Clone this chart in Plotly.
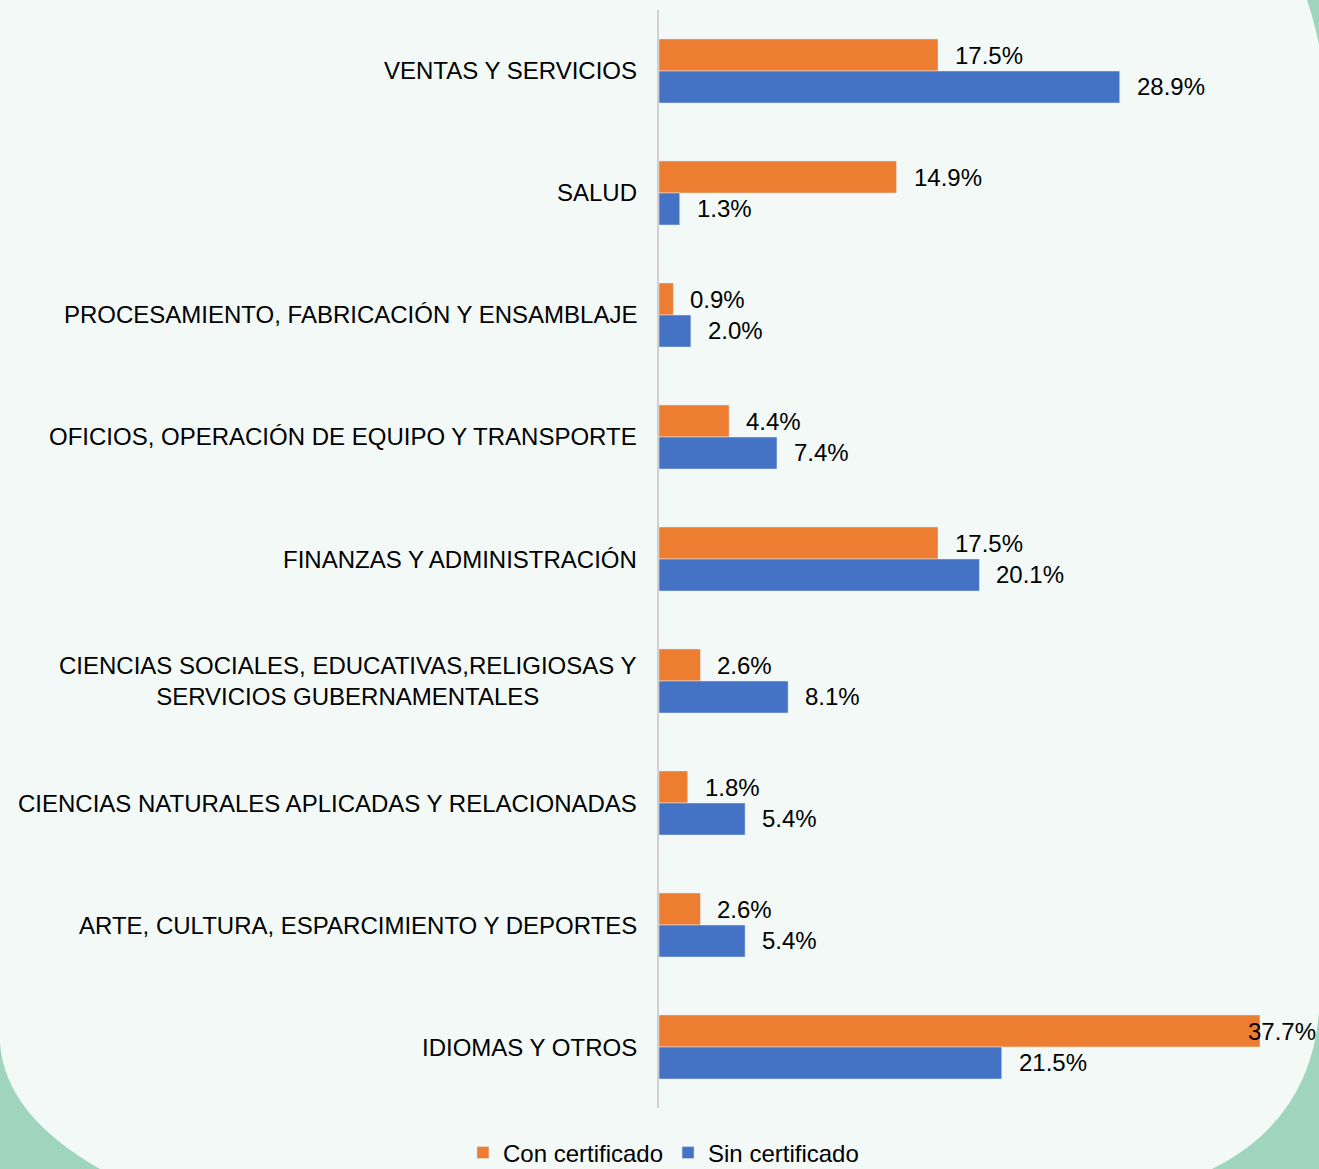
import plotly.graph_objects as go

categorias = [
    "VENTAS Y SERVICIOS",
    "SALUD",
    "PROCESAMIENTO, FABRICACIÓN Y ENSAMBLAJE",
    "OFICIOS, OPERACIÓN DE EQUIPO Y TRANSPORTE",
    "FINANZAS Y ADMINISTRACIÓN",
    "CIENCIAS SOCIALES, EDUCATIVAS,RELIGIOSAS Y<br>SERVICIOS GUBERNAMENTALES",
    "CIENCIAS NATURALES APLICADAS Y RELACIONADAS",
    "ARTE, CULTURA, ESPARCIMIENTO Y DEPORTES",
    "IDIOMAS Y OTROS",
]
con_certificado = [17.5, 14.9, 0.9, 4.4, 17.5, 2.6, 1.8, 2.6, 37.7]
sin_certificado = [28.9, 1.3, 2.0, 7.4, 20.1, 8.1, 5.4, 5.4, 21.5]

W, H = 1319, 1169
FONT = "Liberation Sans, Arial, sans-serif"
FS = 24
BG = "#f2f9f7"
GREEN = "#9fd5bd"
ORANGE = "#ED7D31"
BLUE = "#4472C4"

x0_px, x1_px = 659, W
XMAX = 41.4
dom_x = [x0_px / W, 1.0]
dom_y = [1 - 1108 / H, 1 - 10 / H]

fig = go.Figure()
fig.add_trace(go.Bar(y=categorias, x=con_certificado, orientation="h",
                     name="Con certificado", marker_color=ORANGE))
fig.add_trace(go.Bar(y=categorias, x=sin_certificado, orientation="h",
                     name="Sin certificado", marker_color=BLUE))

# etiquetas de datos
annotations = []
for serie, offset in ((con_certificado, -0.13), (sin_certificado, 0.13)):
    for i, v in enumerate(serie):
        px_end = x0_px + v / XMAX * (x1_px - x0_px)
        txt = f"{v:.1f}%"
        if px_end + 16 + 68 > W:
            annotations.append(dict(x=1.0, xref="paper", y=i + offset, yref="y",
                                    text=txt, showarrow=False, xanchor="right",
                                    xshift=-1, font=dict(size=FS, color="#000")))
        else:
            annotations.append(dict(x=v, xref="x", y=i + offset, yref="y",
                                    text=txt, showarrow=False, xanchor="left",
                                    xshift=15, font=dict(size=FS, color="#000")))

# etiquetas de categoria
for i, c in enumerate(categorias):
    annotations.append(dict(x=dom_x[0], xref="paper", y=i, yref="y", text=c,
                            showarrow=False, xanchor="right", xshift=-20,
                            align="center", font=dict(size=FS, color="#000")))


def path(pts):
    return "M {},{} Q {},{} {},{}".format(*[c for pt in pts for c in (pt[0] / W, 1 - pt[1] / H)])


corners = [
    [(0, 1043), (5, 1115), (100, H)],
    [(W, 1013), (1310, 1120), (1212, H)],
    [(1307, 0), (1314, 20), (W, 45)],
]
closing = [(0, H), (W, H), (W, 0)]
shapes = []
for pts, c in zip(corners, closing):
    p = path(pts) + " L {},{} Z".format(c[0] / W, 1 - c[1] / H)
    shapes.append(dict(type="path", xref="paper", yref="paper", path=p,
                       fillcolor=GREEN, line=dict(width=0), layer="below"))

fig.update_layout(
    width=W, height=H,
    margin=dict(l=0, r=0, t=0, b=0, autoexpand=False),
    paper_bgcolor=BG, plot_bgcolor="rgba(0,0,0,0)",
    font=dict(family=FONT, size=FS, color="#000"),
    barmode="group", bargap=0.475, bargroupgap=0,
    xaxis=dict(domain=dom_x, range=[0, XMAX], showgrid=False, zeroline=False,
               showticklabels=False, fixedrange=True),
    yaxis=dict(domain=dom_y, autorange="reversed", showticklabels=False,
               showline=True, linecolor="#d0d0d0", linewidth=2, ticks="",
               showgrid=False),
    legend=dict(orientation="h", x=0.503, xanchor="center", y=1 - 1153 / H,
                yanchor="middle", bgcolor="rgba(0,0,0,0)",
                font=dict(size=FS, family=FONT), itemwidth=30),
    annotations=annotations,
    shapes=shapes,
)

fig.write_html("out.html", config={"displayModeBar": False},
               post_script="document.body.style.margin='0';")
